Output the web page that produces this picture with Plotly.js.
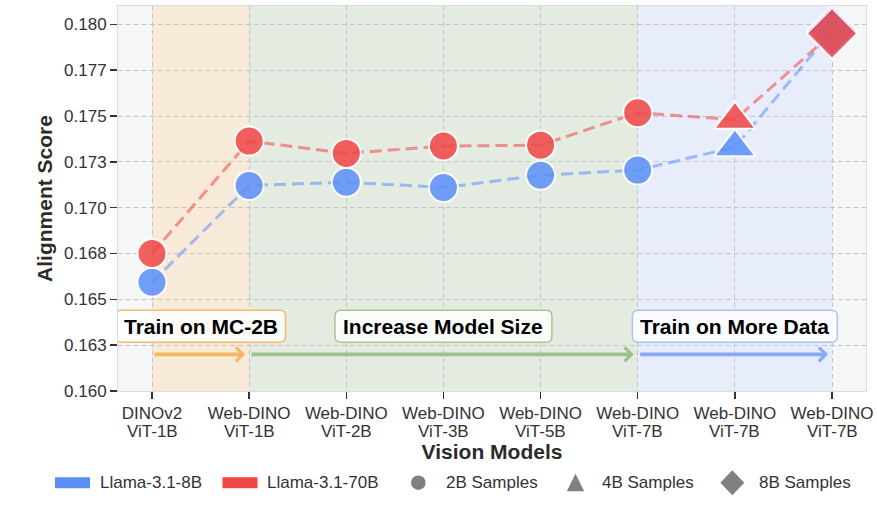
<!DOCTYPE html>
<html><head><meta charset="utf-8">
<script src="https://cdn.plot.ly/plotly-3.0.1.min.js"></script>
<style>html,body{margin:0;padding:0;background:#fff}#chart{width:877px;height:510px}</style>
</head><body><div id="chart"></div>
<script>
// ---------- data ----------
const xIndex = [0, 1, 2, 3, 4, 5, 6, 7];
const modelFamilies = ['DINOv2', 'Web-DINO', 'Web-DINO', 'Web-DINO', 'Web-DINO', 'Web-DINO', 'Web-DINO', 'Web-DINO'];
const modelSizes = ['ViT-1B', 'ViT-1B', 'ViT-2B', 'ViT-3B', 'ViT-5B', 'ViT-7B', 'ViT-7B', 'ViT-7B'];
const trainingSamples = ['2B', '2B', '2B', '2B', '2B', '2B', '4B', '8B'];
const llama8bScores = [0.16593, 0.17121, 0.17139, 0.17110, 0.17177, 0.17205, 0.17330, 0.17965];
const llama70bScores = [0.16750, 0.17363, 0.17296, 0.17336, 0.17341, 0.17518, 0.17480, 0.17950];
const yTickValues = [0.16, 0.1625, 0.165, 0.1675, 0.17, 0.1725, 0.175, 0.1775, 0.18];
const yTickLabels = ['0.160', '0.163', '0.165', '0.168', '0.170', '0.173', '0.175', '0.177', '0.180'];
const seriesNames = ['Llama-3.1-8B', 'Llama-3.1-70B'];
const sampleLabels = ['2B Samples', '4B Samples', '8B Samples'];
const phaseLabels = ['Train on MC-2B', 'Increase Model Size', 'Train on More Data'];
const phaseStart = [0, 1, 5];
const phaseEnd = [1, 5, 7];
const phaseLabelY = 0.16353;
const phaseArrowY = 0.162;

// ---------- styles ----------
const FONT = 'Liberation Sans, Arial, sans-serif';
const BLUE = '#5b8ff9', RED = '#f04646';
const BLUE_LINE = 'rgba(91,143,249,0.55)', RED_LINE = 'rgba(240,70,70,0.55)';
const symbolFor = {'2B': 'circle', '4B': 'triangle-up', '8B': 'diamond'};
const sizeFor = {'2B': 29, '4B': 36, '8B': 39};
const phaseBand = ['rgba(250,226,196,0.6)', 'rgba(214,226,206,0.55)', 'rgba(226,234,252,0.7)'];
const phaseBorder = ['#f5b96e', '#a6c692', '#aac3f5'];
const phaseArrow = ['#f5b75f', '#9cc189', '#86a8f5'];
const phaseBoxW = [170, 217, 205];

const symbols = trainingSamples.map(s => symbolFor[s]);
const sizes = trainingSamples.map(s => sizeFor[s]);

function roundRect(w, h, r) {
  const a = w / 2, b = h / 2;
  return `M${-a + r},${-b} L${a - r},${-b} Q${a},${-b} ${a},${-b + r} L${a},${b - r} Q${a},${b} ${a - r},${b} ` +
         `L${-a + r},${b} Q${-a},${b} ${-a},${b - r} L${-a},${-b + r} Q${-a},${-b} ${-a + r},${-b} Z`;
}

const traces = [
  {x: xIndex, y: llama8bScores, mode: 'lines', line: {color: BLUE_LINE, width: 3, dash: '12px,6px'}, showlegend: false, hoverinfo: 'skip'},
  {x: xIndex, y: llama70bScores, mode: 'lines', line: {color: RED_LINE, width: 3, dash: '12px,6px'}, showlegend: false, hoverinfo: 'skip'},
  {x: xIndex, y: llama8bScores, mode: 'markers', name: seriesNames[0], showlegend: false,
   marker: {color: BLUE, opacity: 0.85, symbol: symbols, size: sizes, line: {color: '#ffffff', width: 2}}},
  {x: xIndex, y: llama70bScores, mode: 'markers', name: seriesNames[1], showlegend: false,
   marker: {color: RED, opacity: 0.85, symbol: symbols, size: sizes, line: {color: '#ffffff', width: 2}}}
];

const shapes = [];
const annotations = [];

// phase background bands
phaseStart.forEach((s, i) => {
  shapes.push({type: 'rect', xref: 'x', yref: 'paper', x0: s, x1: phaseEnd[i], y0: 0, y1: 1,
               fillcolor: phaseBand[i], line: {width: 0}, layer: 'below'});
});

// phase labels (rounded boxes) and arrows
phaseLabels.forEach((lab, i) => {
  const cx = (phaseStart[i] + phaseEnd[i]) / 2;
  shapes.push({type: 'path', xref: 'x', yref: 'y', xsizemode: 'pixel', ysizemode: 'pixel',
               xanchor: cx, yanchor: phaseLabelY, path: roundRect(phaseBoxW[i], 32, 6),
               fillcolor: 'rgba(255,255,255,0.82)', line: {color: phaseBorder[i], width: 1.5}, layer: 'above'});
  annotations.push({x: cx, y: phaseLabelY, xref: 'x', yref: 'y', text: lab, showarrow: false,
                    font: {family: FONT, size: 21, color: '#000', weight: 'bold'}, xanchor: 'center', yanchor: 'middle'});
  annotations.push({x: phaseEnd[i], y: phaseArrowY, ax: phaseStart[i], ay: phaseArrowY,
                    xref: 'x', yref: 'y', axref: 'x', ayref: 'y', text: '', showarrow: true,
                    arrowhead: 4, arrowsize: 0.75, arrowwidth: 3.6, arrowcolor: phaseArrow[i], standoff: 4, startstandoff: 1});
});

// second line of x tick labels
xIndex.forEach((x, i) => {
  annotations.push({x: x, y: -0.104, xref: 'x', yref: 'paper', text: modelSizes[i], showarrow: false,
                    font: {family: FONT, size: 17, color: '#333'}, xanchor: 'center', yanchor: 'middle'});
});

// custom legend
const L = 118, PW = 748, PB = 391, PH = 385;
const px = v => (v - L) / PW;
const legY = (PB - 482.7) / PH;
const legendColors = [BLUE, RED];
[72.5, 240].forEach((c, i) => {
  shapes.push({type: 'rect', xref: 'paper', yref: 'paper', xsizemode: 'pixel', ysizemode: 'pixel',
               xanchor: px(c), yanchor: legY, x0: -17.5, x1: 17.5, y0: -5.5, y1: 5.5,
               fillcolor: legendColors[i], line: {width: 0}});
});
shapes.push({type: 'circle', xref: 'paper', yref: 'paper', xsizemode: 'pixel', ysizemode: 'pixel',
             xanchor: px(418.3), yanchor: legY, x0: -7.3, x1: 7.3, y0: -7.3, y1: 7.3, fillcolor: '#808080', line: {width: 0}});
shapes.push({type: 'path', xref: 'paper', yref: 'paper', xsizemode: 'pixel', ysizemode: 'pixel',
             xanchor: px(575.5), yanchor: legY, path: 'M-8.7,-8.5 L8.7,-8.5 L0,9 Z', fillcolor: '#808080', line: {width: 0}});
shapes.push({type: 'path', xref: 'paper', yref: 'paper', xsizemode: 'pixel', ysizemode: 'pixel',
             xanchor: px(732.3), yanchor: legY, path: 'M0,-12.5 L12,0 L0,12.5 L-12,0 Z', fillcolor: '#808080', line: {width: 0}});
const legendTexts = seriesNames.concat(sampleLabels);
[98, 265, 443.7, 599.7, 757].forEach((lx, i) => {
  annotations.push({x: px(lx), y: legY, xref: 'paper', yref: 'paper', text: legendTexts[i], showarrow: false,
                    font: {family: FONT, size: 17, color: '#333'}, xanchor: 'left', yanchor: 'middle'});
});

const layout = {
  width: 877, height: 510,
  margin: {l: 118, r: 11, t: 6, b: 119},
  paper_bgcolor: '#ffffff',
  plot_bgcolor: '#f5f6f8',
  font: {family: FONT, size: 17, color: '#333'},
  showlegend: false,
  xaxis: {
    range: [-0.35, 7.35], tickmode: 'array', tickvals: xIndex, ticktext: modelFamilies,
    showgrid: true, gridcolor: '#c6c6c6', griddash: '5px,3px', gridwidth: 1,
    zeroline: false, showline: true, linecolor: '#dcdcdc', linewidth: 1, mirror: true,
    ticks: 'outside', ticklen: 7, tickwidth: 1.5, tickcolor: '#333',
    tickfont: {family: FONT, size: 17, color: '#333'},
    title: {text: 'Vision Models', font: {family: FONT, size: 21, color: '#2b2b2b', weight: 'bold'}, standoff: 21}
  },
  yaxis: {
    range: [0.160, 0.1810], tickmode: 'array', tickvals: yTickValues, ticktext: yTickLabels,
    showgrid: true, gridcolor: '#c6c6c6', griddash: '5px,3px', gridwidth: 1,
    zeroline: false, showline: true, linecolor: '#dcdcdc', linewidth: 1, mirror: true,
    ticks: 'outside', ticklen: 7, tickwidth: 1.5, tickcolor: '#333',
    tickfont: {family: FONT, size: 17, color: '#333'},
    title: {text: 'Alignment Score', font: {family: FONT, size: 21, color: '#2b2b2b', weight: 'bold'}, standoff: 5}
  },
  shapes: shapes,
  annotations: annotations
};

Plotly.newPlot('chart', traces, layout, {displayModeBar: false, staticPlot: true});
</script>
</body></html>
